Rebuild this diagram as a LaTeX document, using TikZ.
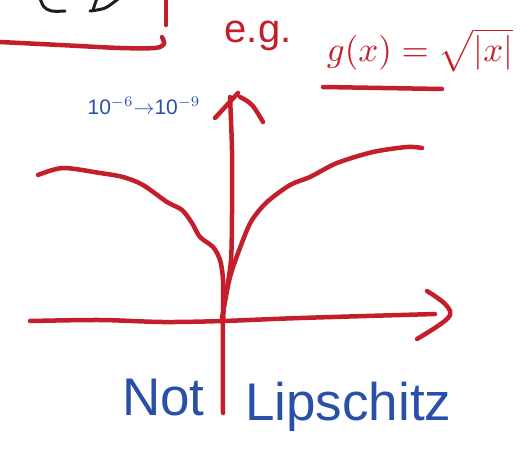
\documentclass[tikz,border=0pt]{standalone}
\usepackage{fontspec}
\setmainfont{Liberation Sans}
\definecolor{penred}{RGB}{196,30,42}
\definecolor{penblue}{RGB}{40,80,168}
\definecolor{penblack}{RGB}{30,30,30}
\begin{document}
\begin{tikzpicture}[x=1pt,y=-1pt,
  redpen/.style={draw=penred,line width=4.5pt,line cap=round,line join=round},
  blackpen/.style={draw=penblack,line width=3pt,line cap=round,line join=round},
  bluetext/.style={text=penblue,inner sep=0pt},
  redtext/.style={text=penred,inner sep=0pt}]
\useasboundingbox (0,0) rectangle (529,452);
% top-left fragments
\draw[blackpen] plot[smooth,tension=0.6] coordinates {(40,-2) (44,7) (52,11) (65,11)};
\draw[blackpen] (97,-2) -- (93,10);
\draw[blackpen] plot[smooth,tension=0.6] coordinates {(90,11) (105,8) (118,-1)};
\draw[redpen] (166,-3) -- (166,25);
\draw[redpen] plot[smooth,tension=0.5] coordinates {(162,37) (164,44) (155,48) (120,48) (60,45) (0,42)};
% texts at top
\node[redtext,anchor=base,font=\fontsize{40}{40}\selectfont] (eg) at (258,42) {e.g.};
\node[redtext] (gx) at (420,50) {\scalebox{3.5}{$g(x)=\sqrt{|x|}$}};
\draw[redpen] (323,87) -- (442,89);
\node[bluetext] (range) at (144,106) {\scalebox{2.1}{10$^{-6}{\rightarrow}$10$^{-9}$}};
% vertical axis
\draw[redpen] plot[smooth,tension=0.5] coordinates {(230,97) (232,150) (232,213) (231,260) (226,295) (223,320) (223,413)};
\draw[redpen] (215,118) -- (238,93);
\draw[redpen] plot[smooth,tension=0.6] coordinates {(240,97) (252,105) (263,122)};
% horizontal axis
\draw[redpen] plot[smooth,tension=0.5] coordinates {(30,321) (100,320) (163,322) (223,321) (300,318) (435,314)};
\draw[redpen] plot[smooth,tension=0.6] coordinates {(427,291) (446,305) (448,318) (417,339)};
% curve sqrt|x|
\draw[redpen] plot[smooth,tension=0.5] coordinates {(38,175) (63,168) (100,173) (123,177) (143,185) (167,202) (182,210) (192,223) (200,237) (213,247) (220,260) (223,280) (223,318)};
\draw[redpen] plot[smooth,tension=0.5] coordinates {(222,318) (230,277) (243,240) (252,220) (267,202) (290,185) (310,177) (337,163) (373,152) (407,147) (422,148)};
% bottom text
\node[bluetext,anchor=base west,font=\fontsize{53}{53}\selectfont] (nottxt) at (122,415) {Not};
\node[bluetext,anchor=base west,font=\fontsize{53}{53}\selectfont] (lip) at (245,420) {Lipschitz};
\end{tikzpicture}
\end{document}
